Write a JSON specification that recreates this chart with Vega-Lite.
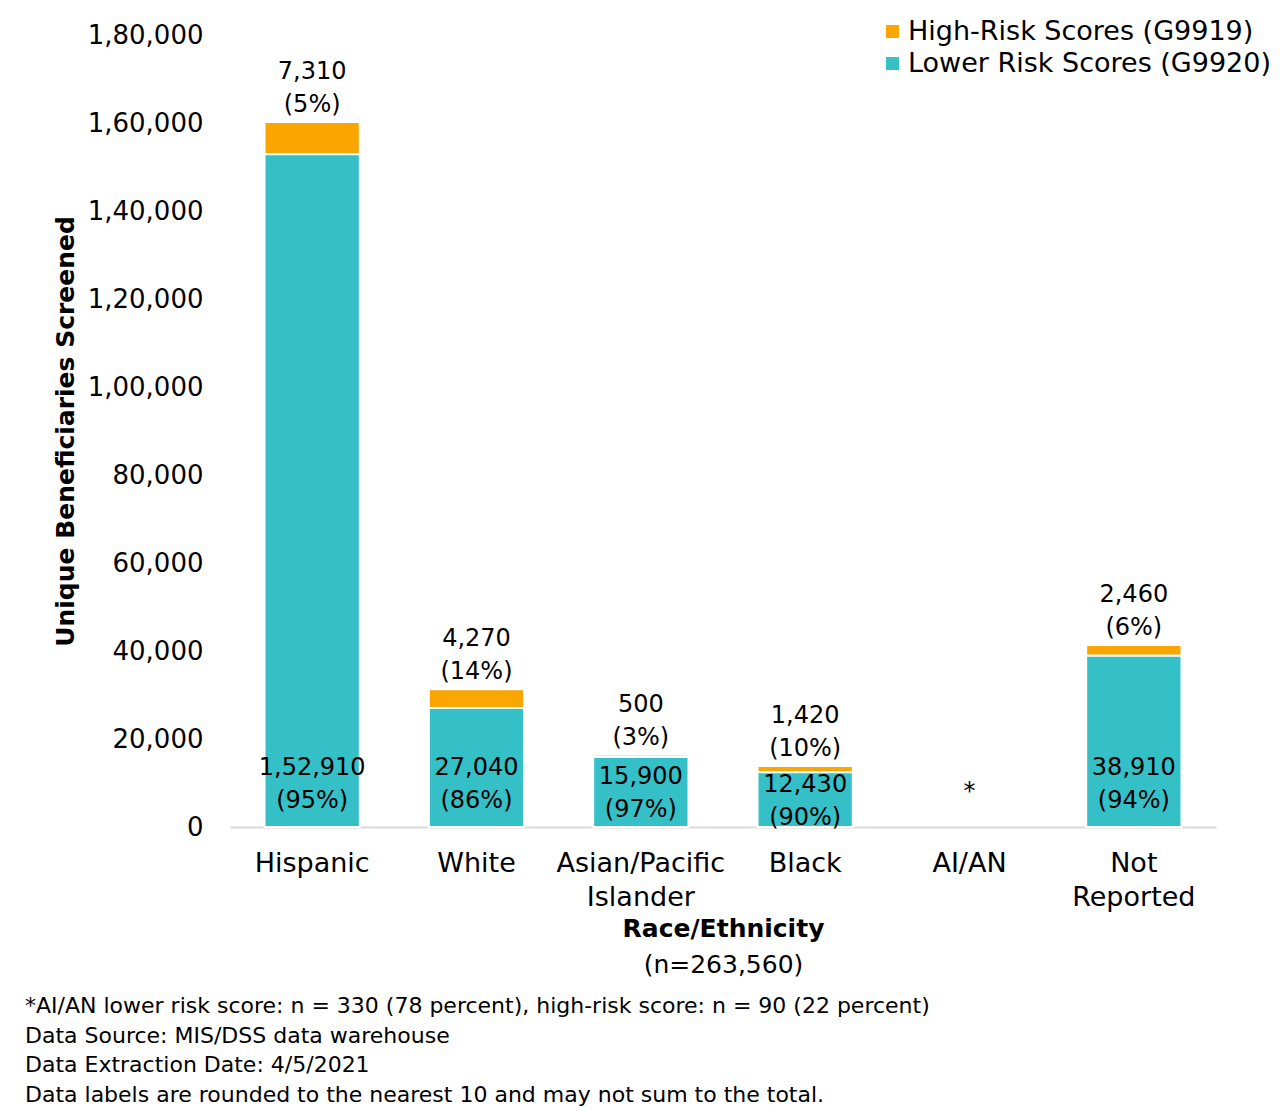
{
  "$schema": "https://vega.github.io/schema/vega-lite/v6.json",
  "width": 986,
  "height": 792,
  "autosize": {"type": "none"},
  "padding": {"left": 230, "top": 35, "right": 64, "bottom": 292},
  "background": "white",
  "config": {"font": "DejaVu Sans", "view": {"stroke": null}, "text": {"color": "black"}},
  "title": {
    "text": [
      "*AI/AN lower risk score: n = 330 (78 percent), high-risk score: n = 90 (22 percent)",
      "Data Source: MIS/DSS data warehouse",
      "Data Extraction Date: 4/5/2021",
      "Data labels are rounded to the nearest 10 and may not sum to the total."
    ],
    "orient": "bottom",
    "anchor": "start",
    "frame": "group",
    "align": "left",
    "dx": -205,
    "offset": 19,
    "fontSize": 22,
    "fontWeight": "normal",
    "lineHeight": 29.5,
    "color": "black"
  },
  "data": {
    "values": [
      {"race": "Hispanic", "risk": "High-Risk Scores (G9919)", "value": 7310, "label": "7,310\n(5%)"},
      {"race": "Hispanic", "risk": "Lower Risk Scores (G9920)", "value": 152910, "label": "1,52,910\n(95%)"},
      {"race": "White", "risk": "High-Risk Scores (G9919)", "value": 4270, "label": "4,270\n(14%)"},
      {"race": "White", "risk": "Lower Risk Scores (G9920)", "value": 27040, "label": "27,040\n(86%)"},
      {"race": "Asian/Pacific Islander", "risk": "High-Risk Scores (G9919)", "value": 500, "label": "500\n(3%)"},
      {"race": "Asian/Pacific Islander", "risk": "Lower Risk Scores (G9920)", "value": 15900, "label": "15,900\n(97%)"},
      {"race": "Black", "risk": "High-Risk Scores (G9919)", "value": 1420, "label": "1,420\n(10%)"},
      {"race": "Black", "risk": "Lower Risk Scores (G9920)", "value": 12430, "label": "12,430\n(90%)"},
      {"race": "AI/AN", "risk": "High-Risk Scores (G9919)", "value": null, "label": ""},
      {"race": "AI/AN", "risk": "Lower Risk Scores (G9920)", "value": null, "label": "*"},
      {"race": "Not Reported", "risk": "High-Risk Scores (G9919)", "value": 2460, "label": "2,460\n(6%)"},
      {"race": "Not Reported", "risk": "Lower Risk Scores (G9920)", "value": 38910, "label": "38,910\n(94%)"}
    ]
  },
  "resolve": {"axis": {"x": "independent"}},
  "layer": [
    {
      "mark": {"type": "bar", "stroke": "white", "strokeWidth": 2},
      "encoding": {
        "x": {
          "field": "race", "type": "nominal",
          "sort": ["Hispanic", "White", "Asian/Pacific Islander", "Black", "AI/AN", "Not Reported"],
          "scale": {"paddingInner": 0.42, "paddingOuter": 0.21},
          "axis": {
            "orient": "bottom",
            "title": "Race/Ethnicity",
            "titleFontSize": 25,
            "titleFontWeight": "bold",
            "titleColor": "black",
            "titleBaseline": "middle",
            "titleY": 101,
            "labelAngle": 0,
            "labelFontSize": 27,
            "labelColor": "black",
            "labelPadding": 23,
            "labelLineHeight": 34,
            "labelExpr": "datum.value == 'Asian/Pacific Islander' ? ['Asian/Pacific', 'Islander'] : datum.value == 'Not Reported' ? ['Not', 'Reported'] : datum.value",
            "ticks": false,
            "domainColor": "#D9D9D9",
            "domainWidth": 2
          }
        },
        "y": {
          "field": "value", "type": "quantitative", "stack": "zero",
          "scale": {"domain": [0, 180000]},
          "axis": {
            "title": "Unique Beneficiaries Screened",
            "titleFontSize": 25,
            "titleFontWeight": "bold",
            "titleColor": "black",
            "titleBaseline": "middle",
            "titleX": -165,
            "values": [0, 20000, 40000, 60000, 80000, 100000, 120000, 140000, 160000, 180000],
            "labelExpr": "datum.value >= 100000 ? floor(datum.value / 100000) + ',' + (datum.value % 100000 == 0 ? '00,000' : format(datum.value % 100000, ',')) : format(datum.value, ',')",
            "labelFontSize": 26,
            "labelColor": "black",
            "labelPadding": 27,
            "ticks": false,
            "domain": false,
            "grid": false
          }
        },
        "color": {
          "field": "risk", "type": "nominal",
          "scale": {"domain": ["High-Risk Scores (G9919)", "Lower Risk Scores (G9920)"], "range": ["#FBA500", "#35BFC7"]},
          "legend": {
            "title": null,
            "orient": "none",
            "legendX": 649,
            "legendY": -17,
            "symbolType": "square",
            "symbolSize": 169,
            "symbolStrokeWidth": 0,
            "labelFontSize": 27,
            "labelColor": "black",
            "labelLimit": 0,
            "labelOffset": 2,
            "rowPadding": 4
          }
        },
        "order": {"field": "risk", "sort": "descending"}
      }
    },
    {
      "transform": [
        {"joinaggregate": [{"op": "sum", "field": "value", "as": "total"}], "groupby": ["race"]},
        {"filter": "datum.risk == 'High-Risk Scores (G9919)' && datum.value != null"}
      ],
      "mark": {"type": "text", "baseline": "bottom", "dy": -38, "fontSize": 24, "lineBreak": "\n", "lineHeight": 33},
      "encoding": {
        "x": {
          "field": "race", "type": "nominal",
          "sort": ["Hispanic", "White", "Asian/Pacific Islander", "Black", "AI/AN", "Not Reported"],
          "axis": null
        },
        "y": {
          "field": "total", "type": "quantitative",
          "axis": {
            "title": "Unique Beneficiaries Screened",
            "titleFontSize": 25,
            "titleFontWeight": "bold",
            "titleColor": "black",
            "titleBaseline": "middle",
            "titleX": -165,
            "values": [0, 20000, 40000, 60000, 80000, 100000, 120000, 140000, 160000, 180000],
            "labelExpr": "datum.value >= 100000 ? floor(datum.value / 100000) + ',' + (datum.value % 100000 == 0 ? '00,000' : format(datum.value % 100000, ',')) : format(datum.value, ',')",
            "labelFontSize": 26,
            "labelColor": "black",
            "labelPadding": 27,
            "ticks": false,
            "domain": false,
            "grid": false
          }
        },
        "text": {"field": "label"}
      }
    },
    {
      "transform": [
        {"filter": "datum.risk == 'Lower Risk Scores (G9920)'"},
        {"calculate": "datum.value == null ? 4500 : min(datum.value / 2, 10000)", "as": "labelPos"}
      ],
      "mark": {"type": "text", "baseline": "middle", "dy": -15, "fontSize": 24, "lineBreak": "\n", "lineHeight": 33},
      "encoding": {
        "x": {
          "field": "race", "type": "nominal",
          "sort": ["Hispanic", "White", "Asian/Pacific Islander", "Black", "AI/AN", "Not Reported"],
          "axis": {
            "orient": "bottom",
            "title": "(n=263,560)",
            "titleFontSize": 25,
            "titleFontWeight": "normal",
            "titleColor": "black",
            "titleBaseline": "middle",
            "titleY": 137,
            "labels": false,
            "ticks": false,
            "domain": false
          }
        },
        "y": {
          "field": "labelPos", "type": "quantitative",
          "axis": {
            "title": "Unique Beneficiaries Screened",
            "titleFontSize": 25,
            "titleFontWeight": "bold",
            "titleColor": "black",
            "titleBaseline": "middle",
            "titleX": -165,
            "values": [0, 20000, 40000, 60000, 80000, 100000, 120000, 140000, 160000, 180000],
            "labelExpr": "datum.value >= 100000 ? floor(datum.value / 100000) + ',' + (datum.value % 100000 == 0 ? '00,000' : format(datum.value % 100000, ',')) : format(datum.value, ',')",
            "labelFontSize": 26,
            "labelColor": "black",
            "labelPadding": 27,
            "ticks": false,
            "domain": false,
            "grid": false
          }
        },
        "text": {"field": "label"}
      }
    }
  ]
}
